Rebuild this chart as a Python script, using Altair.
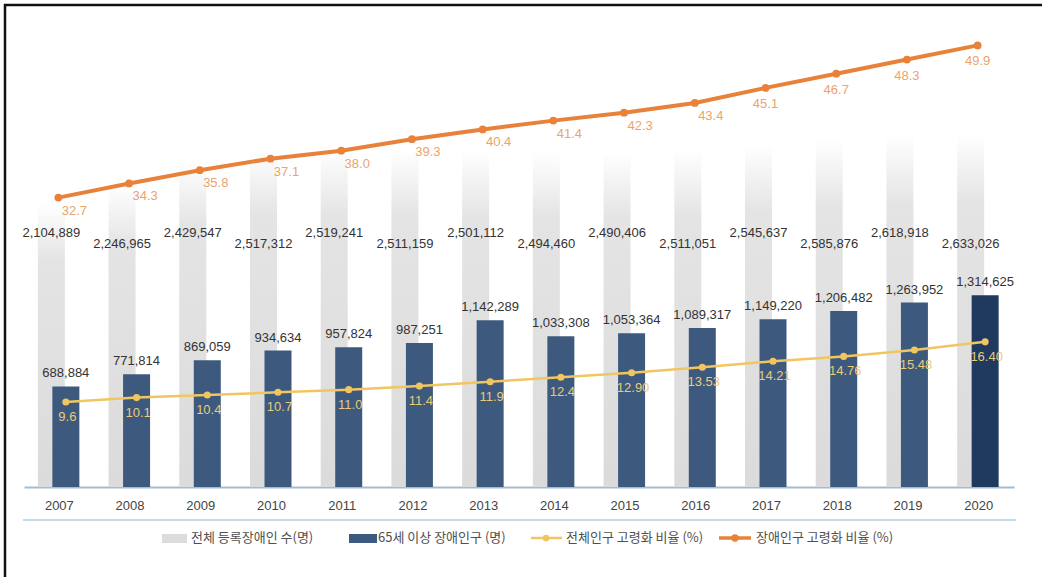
import altair as alt
import pandas as pd

# ---- data ----
years = list(range(2007, 2021))
total_disabled = [2104889, 2246965, 2429547, 2517312, 2519241, 2511159, 2501112,
                  2494460, 2490406, 2511051, 2545637, 2585876, 2618918, 2633026]
elderly_disabled = [688884, 771814, 869059, 934634, 957824, 987251, 1142289,
                    1033308, 1053364, 1089317, 1149220, 1206482, 1263952, 1314625]
total_pop_ratio = [9.6, 10.1, 10.4, 10.7, 11.0, 11.4, 11.9, 12.4, 12.90, 13.53,
                   14.21, 14.76, 15.48, 16.40]
total_pop_ratio_labels = ["9.6", "10.1", "10.4", "10.7", "11.0", "11.4", "11.9",
                          "12.4", "12.90", "13.53", "14.21", "14.76", "15.48", "16.40"]
disabled_ratio = [32.7, 34.3, 35.8, 37.1, 38.0, 39.3, 40.4, 41.4, 42.3, 43.4,
                  45.1, 46.7, 48.3, 49.9]
legend_labels = ["전체 등록장애인 수(명)", "65세 이상  장애인구 (명)",
                 "전체인구 고령화 비율 (%)", "장애인구 고령화 비율 (%)"]

df = pd.DataFrame({
    "year": years,
    "total": total_disabled,
    "elderly": elderly_disabled,
    "tratio": total_pop_ratio,
    "tlabel": total_pop_ratio_labels,
    "dratio": disabled_ratio,
})

NUM_FONT = "Liberation Sans Narrow, Arial Narrow, Liberation Sans, sans-serif"
KR_FONT = "Noto Sans CJK KR, Noto Sans, sans-serif"
NUM_SIZE = 13

W, H = 990, 467
PL, PT = 24, 20

GRAY_OFF = -8
DARK_OFF = 6.5
ORANGE = "#e8823a"
ORANGE_TXT = "#eba46a"
YELLOW = "#f1c660"
YELLOW_TXT = "#e9cb7a"
DARK = "#3d5a7e"
DARKEST = "#1f3a5e"

x_enc = alt.X("year:O",
              scale=alt.Scale(paddingInner=0, paddingOuter=0),
              axis=alt.Axis(title=None, labelAngle=0, ticks=False, grid=False,
                            domainColor="#a3bdd0", domainWidth=2,
                            labelFont=NUM_FONT, labelFontSize=NUM_SIZE,
                            labelColor="#444444", labelPadding=12))

cnt_scale = alt.Scale(domain=[0, 3.2e6], nice=False, zero=True)
pct_scale = alt.Scale(domain=[0, 52.77], nice=False, zero=True)

base = alt.Chart(df)

gray_grad = alt.Gradient(
    gradient="linear",
    stops=[alt.GradientStop(color="#ffffff", offset=0),
           alt.GradientStop(color="#ffffff", offset=0.08),
           alt.GradientStop(color="#e4e4e4", offset=0.26),
           alt.GradientStop(color="#dbdbdb", offset=1)],
    x1=0, x2=0, y1=0, y2=1)

gray_bars = base.mark_bar(width=27, xOffset=GRAY_OFF, color=gray_grad).encode(
    x=x_enc, y=alt.Y("total:Q", scale=cnt_scale, axis=None))

dark_bars = base.mark_bar(width=27, xOffset=DARK_OFF).encode(
    x=x_enc, y=alt.Y("elderly:Q", scale=cnt_scale, axis=None),
    color=alt.condition(alt.datum.year == 2020, alt.value(DARKEST), alt.value(DARK)))

gray_text = base.transform_calculate(
    py="(datum.year % 2 == 1) ? 213 : 224"
).mark_text(font=NUM_FONT, fontSize=NUM_SIZE, color="#333333", baseline="middle",
            dx=GRAY_OFF).encode(
    x=x_enc, y=alt.Y("py:Q", scale=None, axis=None),
    text=alt.Text("total:Q", format=","))

dark_text = base.mark_text(font=NUM_FONT, fontSize=NUM_SIZE, color="#333333",
                           baseline="middle", dx=DARK_OFF, dy=-13).encode(
    x=x_enc, y=alt.Y("elderly:Q", scale=cnt_scale, axis=None),
    text=alt.Text("elderly:Q", format=","))

y_line = base.mark_line(color=YELLOW, strokeWidth=2.5, xOffset=DARK_OFF).encode(
    x=x_enc, y=alt.Y("tratio:Q", scale=pct_scale, axis=None))
y_pts = base.mark_point(filled=True, color=YELLOW, size=50, opacity=1,
                        xOffset=DARK_OFF).encode(
    x=x_enc, y=alt.Y("tratio:Q", scale=pct_scale, axis=None))
y_text = base.mark_text(font=NUM_FONT, fontSize=NUM_SIZE, color=YELLOW_TXT,
                        baseline="middle", dx=DARK_OFF + 1.5, dy=15).encode(
    x=x_enc, y=alt.Y("tratio:Q", scale=pct_scale, axis=None), text="tlabel:N")

o_line = base.mark_line(color=ORANGE, strokeWidth=4, xOffset=-1).encode(
    x=x_enc, y=alt.Y("dratio:Q", scale=pct_scale, axis=None))
o_pts = base.mark_point(filled=True, color=ORANGE, size=60, opacity=1,
                        xOffset=-1).encode(
    x=x_enc, y=alt.Y("dratio:Q", scale=pct_scale, axis=None))
o_text_a = base.transform_filter(alt.datum.year <= 2016).mark_text(
    font=NUM_FONT, fontSize=NUM_SIZE, color=ORANGE_TXT, baseline="middle",
    dx=15, dy=13).encode(
    x=x_enc, y=alt.Y("dratio:Q", scale=pct_scale, axis=None),
    text=alt.Text("dratio:Q", format=".1f"))
o_text_b = base.transform_filter(alt.datum.year >= 2017).mark_text(
    font=NUM_FONT, fontSize=NUM_SIZE, color=ORANGE_TXT, baseline="middle",
    dx=-1, dy=16).encode(
    x=x_enc, y=alt.Y("dratio:Q", scale=pct_scale, axis=None),
    text=alt.Text("dratio:Q", format=".1f"))

one = pd.DataFrame({"k": [0]})


def rule_h(x1, x2, y, color, w):
    return alt.Chart(one).mark_rule(color=color, strokeWidth=w).encode(
        x=alt.value(x1), x2=alt.value(x2), y=alt.value(y))


def rule_v(x, y1, y2, color, w):
    return alt.Chart(one).mark_rule(color=color, strokeWidth=w).encode(
        x=alt.value(x), y=alt.value(y1), y2=alt.value(y2))


def lg_rect(x1, x2, y1, y2, color):
    return alt.Chart(one).mark_rect(color=color).encode(
        x=alt.value(x1), x2=alt.value(x2), y=alt.value(y1), y2=alt.value(y2))


def lg_text(x, y, txt):
    return alt.Chart(pd.DataFrame({"t": [txt]})).mark_text(
        align="left", baseline="middle", font=KR_FONT, fontSize=13,
        color="#505050").encode(x=alt.value(x), y=alt.value(y), text="t:N")


def lg_point(x, y, color, size):
    return alt.Chart(one).mark_point(filled=True, color=color, size=size,
                                     opacity=1).encode(x=alt.value(x), y=alt.value(y))


LY = 518
decor = [
    rule_h(-20, 1018, -15, "#111111", 2.5),
    rule_v(-19, -16, 557, "#111111", 2.5),
    rule_h(-1, 992, 500, "#c3dcea", 2),
    lg_rect(138, 163, 514, 523, "#dcdcdc"),
    lg_text(167, LY, legend_labels[0]),
    lg_rect(325, 353, 514, 523, DARK),
    lg_text(354, LY, legend_labels[1]),
    rule_h(507, 538, LY, YELLOW, 2.5),
    lg_point(522, LY, YELLOW, 45),
    lg_text(542, LY, legend_labels[2]),
    rule_h(695, 727, LY, ORANGE, 3.5),
    lg_point(711, LY, ORANGE, 55),
    lg_text(732, LY, legend_labels[3]),
]

chart = alt.layer(
    gray_bars, dark_bars, gray_text, dark_text,
    y_line, y_pts, y_text, o_line, o_pts, o_text_a, o_text_b,
    *decor
).resolve_scale(y="independent").properties(
    width=W, height=H,
    autosize=alt.AutoSizeParams(type="none"),
    padding={"left": PL, "top": PT, "right": 1042 - PL - W, "bottom": 577 - PT - H},
    background="white",
).configure_view(stroke=None)

chart.save("out.html", embed_options={"renderer": "svg", "actions": False})
